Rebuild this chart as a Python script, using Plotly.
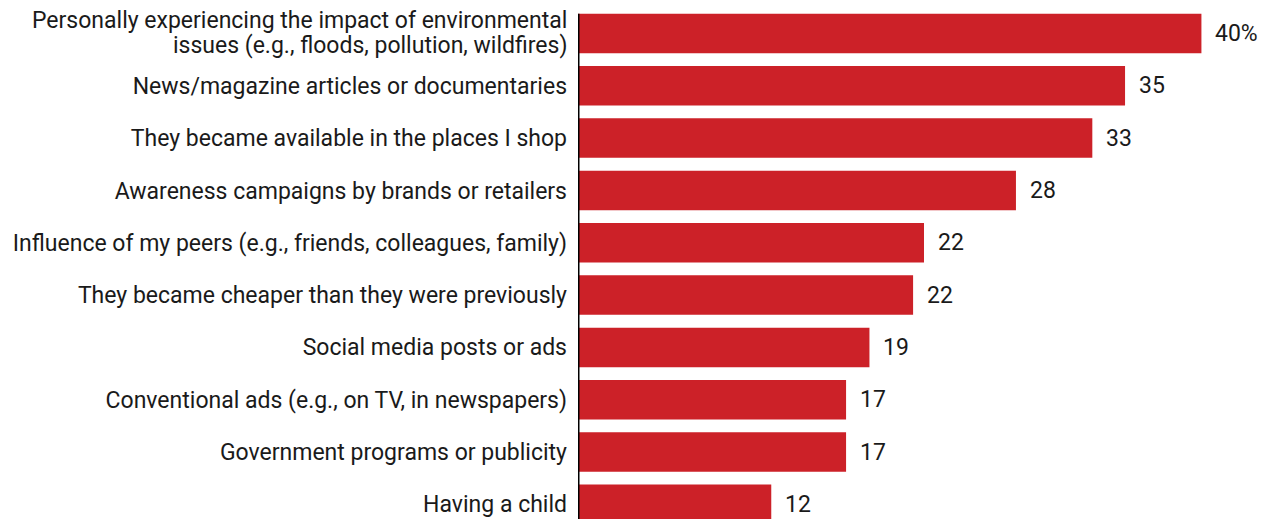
import plotly.graph_objects as go

# Survey responses: what prompted people to buy more sustainable products (% of respondents)
categories = [
    "Personally experiencing the impact of environmental issues (e.g., floods, pollution, wildfires)",
    "News/magazine articles or documentaries",
    "They became available in the places I shop",
    "Awareness campaigns by brands or retailers",
    "Influence of my peers (e.g., friends, colleagues, family)",
    "They became cheaper than they were previously",
    "Social media posts or ads",
    "Conventional ads (e.g., on TV, in newspapers)",
    "Government programs or publicity",
    "Having a child",
]
# the first, long category is set on two lines
first_label_lines = [
    "Personally experiencing the impact of environmental",
    "issues (e.g., floods, pollution, wildfires)",
]
values = [40.0, 35.1, 33.0, 28.1, 22.2, 21.5, 18.7, 17.2, 17.2, 12.4]

BAR_RED = "#cc2128"
TEXT = "#1a1a1a"
FONT = "Roboto, Arial, sans-serif"
FSIZE = 23

labels = [f"{v:.0f}%" if i == 0 else f"{v:.0f}" for i, v in enumerate(values)]

fig = go.Figure(
    go.Bar(
        x=values,
        y=categories,
        orientation="h",
        marker=dict(color=BAR_RED, line=dict(width=0)),
        hoverinfo="skip",
    )
)

# value labels just past the end of each bar
for cat, v, lab in zip(categories, values, labels):
    fig.add_annotation(
        x=v, y=cat, text=lab, showarrow=False,
        xanchor="left", yanchor="middle", xshift=12,
        font=dict(family=FONT, size=FSIZE, color=TEXT),
    )

# two-line category label with tight line spacing
for line, shift in zip(first_label_lines, [12.5, -12.5]):
    fig.add_annotation(
        x=0, xref="paper", y=categories[0], yref="y",
        text=line, showarrow=False,
        xanchor="right", yanchor="middle", xshift=-11, yshift=shift,
        borderpad=0, borderwidth=0,
        font=dict(family=FONT, size=FSIZE, color=TEXT),
    )

bargap = 0.245
# vertical baseline at zero, starting at the top edge of the first bar
fig.add_shape(
    type="line", xref="x", yref="y",
    x0=0, x1=0, y0=-(1 - bargap) / 2, y1=9.6,
    line=dict(color="#000000", width=3),
)

ticktext = [""] + categories[1:]

fig.update_layout(
    width=1270, height=519,
    margin=dict(l=578, r=0, t=0, b=0),
    paper_bgcolor="white", plot_bgcolor="white",
    bargap=bargap,
    showlegend=False,
    xaxis=dict(range=[0, 44.4], visible=False, fixedrange=True),
    yaxis=dict(
        range=[9.28, -0.64],
        tickmode="array", tickvals=categories, ticktext=ticktext,
        showgrid=False, zeroline=False, showline=False,
        ticks="", ticklabelstandoff=10,
        tickfont=dict(family=FONT, size=FSIZE, color=TEXT),
        automargin=False, fixedrange=True,
    ),
)

fig.write_html("out.html")
